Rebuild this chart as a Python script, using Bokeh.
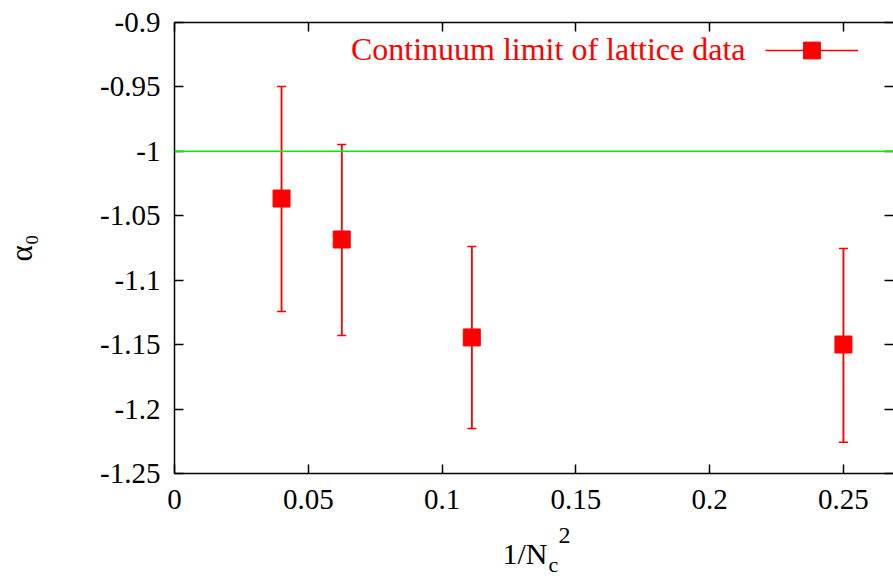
from bokeh.plotting import figure
from bokeh.core.properties import value
from bokeh.models import (Range1d, LinearAxis, Whisker, TeeHead, ColumnDataSource,
                          Legend, LegendItem, Span, FixedTicker, CustomJSTickFormatter)
from bokeh.embed import file_html
from bokeh.resources import INLINE

# data
inv_nc2 = [1 / 25, 1 / 16, 1 / 9, 1 / 4]
alpha0 = [-1.0366, -1.0684, -1.1444, -1.1499]
alpha0_hi = [-0.9497, -0.9947, -1.0738, -1.0754]
alpha0_lo = [-1.1243, -1.1429, -1.2151, -1.2258]
x_ticks = [0, 0.05, 0.1, 0.15, 0.2, 0.25]
y_ticks = [-1.25, -1.2, -1.15, -1.1, -1.05, -1.0, -0.95, -0.9]
ref_value = -1.0
legend_text = "Continuum limit of lattice data"
y_label = "α₀"
x_min, x_max = 0.0, 0.2687
y_min, y_max = -1.25, -0.9

FONT = "Liberation Serif"
RED = "#ff0000"

src = ColumnDataSource(dict(x=inv_nc2, y=alpha0, hi=alpha0_hi, lo=alpha0_lo))

p = figure(width=893, height=578, x_range=Range1d(x_min, x_max), y_range=Range1d(y_min, y_max),
           output_backend="svg", toolbar_location=None,
           min_border_left=174, min_border_right=0, min_border_top=22, min_border_bottom=105)
p.outline_line_color = None
p.grid.grid_line_color = None
p.background_fill_color = "white"
p.border_fill_color = "white"

fmt = CustomJSTickFormatter(code="return tick.toFixed(2).replace(/0+$/, '').replace(/\\.$/, '');")
for ax in (p.xaxis[0], p.yaxis[0]):
    ax.major_tick_in = 9
    ax.major_tick_out = 0
    ax.minor_tick_line_color = None
    ax.axis_line_width = 1.5
    ax.major_tick_line_width = 1.5
    ax.major_label_text_font = FONT
    ax.major_label_text_font_size = "29px"
    ax.major_label_text_color = "black"
    ax.formatter = fmt
p.xaxis[0].ticker = FixedTicker(ticks=x_ticks)
p.yaxis[0].ticker = FixedTicker(ticks=y_ticks)
p.xaxis[0].major_label_standoff = 16
p.yaxis[0].major_label_standoff = 14

# y axis label alpha_0 (reads bottom to top)
p.yaxis[0].axis_label = y_label
p.yaxis[0].axis_label_text_font = FONT
p.yaxis[0].axis_label_text_font_size = "31px"
p.yaxis[0].axis_label_text_font_style = "normal"
p.yaxis[0].axis_label_text_color = "black"
p.yaxis[0].axis_label_standoff = 58

blank = CustomJSTickFormatter(code="return ''")
top = LinearAxis(ticker=FixedTicker(ticks=x_ticks), formatter=blank, major_tick_in=9, major_tick_out=0,
                 minor_tick_line_color=None, axis_line_width=1.5, major_tick_line_width=1.5,
                 major_label_standoff=0)
right = LinearAxis(ticker=FixedTicker(ticks=y_ticks), formatter=blank, major_tick_in=9, major_tick_out=0,
                   minor_tick_line_color=None, axis_line_color=None, major_tick_line_width=1.5,
                   major_label_standoff=0)
p.add_layout(top, "above")
p.add_layout(right, "right")

p.add_layout(Span(location=ref_value, dimension="width", line_color="#00ee00", line_width=1.5))

p.add_layout(Whisker(source=src, base="x", upper="hi", lower="lo", line_color=RED, line_width=1.5,
                     upper_head=TeeHead(size=9, line_color=RED, line_width=1.5),
                     lower_head=TeeHead(size=9, line_color=RED, line_width=1.5)))
seg = p.segment(x0="x", y0="lo", x1="x", y1="hi", source=src, line_color=RED, line_width=1.5)
sq = p.scatter("x", "y", source=src, marker="square", size=17, fill_color=RED, line_color=RED)

legend = Legend(items=[LegendItem(label="", renderers=[seg, sq])], location=(591, 402),
                glyph_width=93, glyph_height=42, padding=0, margin=0, spacing=0,
                label_width=0, label_height=0, label_standoff=0, label_text_font_size="1px",
                border_line_color=None, background_fill_alpha=0)
p.add_layout(legend, "center")


def put_text(txt, dx, dy, size, align="left", color="black"):
    """Text anchored at the frame's bottom-left corner, shifted by pixel offsets (vertical middle)."""
    p.text(x=[x_min], y=[y_min], text=[txt], x_offset=dx, y_offset=dy,
           level="overlay", text_font=value(FONT), text_font_size=value(size),
           text_align=align, text_baseline="middle", text_color=color)


# legend text (to the left of its key)
put_text(legend_text, 571, -425, "32px", align="right", color=RED)

# x axis label 1/Nc^2
put_text("1/N", 328, 80, "30px")
put_text("c", 374, 91, "22px")
put_text("2", 384, 62, "24px")

open("out.html", "w").write(file_html(p, INLINE))
